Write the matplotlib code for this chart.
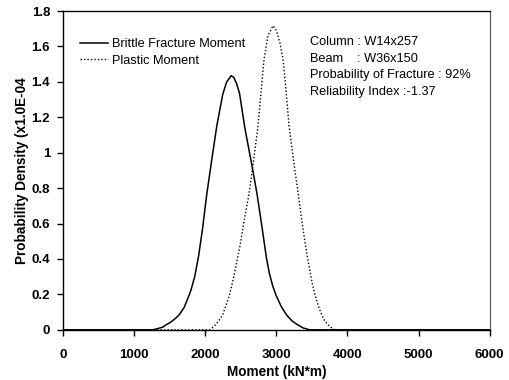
import matplotlib; matplotlib.use('Agg')

import matplotlib.pyplot as plt

plt.rcParams['font.family'] = ['Liberation Sans', 'DejaVu Sans']

# values (density in 1.0E-04)
brittle_x = [0, 1250, 1300, 1400, 1444, 1500, 1550, 1600, 1632, 1700, 1774, 1800,
             1850, 1906, 1960, 2018, 2090, 2160, 2200, 2245, 2300, 2364, 2400,
             2440, 2481, 2552, 2600, 2650, 2726, 2797, 2858, 2900, 2950, 3000, 3070,
             3141, 3220, 3301, 3380, 3470, 6000]
brittle_y = [0.0, 0.0, 0.004, 0.015, 0.028, 0.04, 0.055, 0.072, 0.085, 0.125, 0.198, 0.228,
             0.30, 0.42, 0.57, 0.76, 0.96, 1.149, 1.235, 1.33, 1.40, 1.435, 1.425,
             1.39, 1.335, 1.149, 1.045, 0.94, 0.77, 0.58, 0.41, 0.32, 0.245, 0.19, 0.13,
             0.085, 0.05, 0.028, 0.01, 0.0, 0.0]

plastic_x = [0, 2057, 2100, 2141, 2200, 2245, 2300, 2340, 2400, 2443, 2490, 2528,
             2570, 2613, 2680, 2740, 2790, 2825, 2880, 2952, 3000, 3050, 3094,
             3140, 3178, 3240, 3306, 3353, 3400, 3447, 3500, 3542, 3590, 3636,
             3680, 3730, 3780, 3825, 6000]
plastic_y = [0.0, 0.0, 0.012, 0.028, 0.058, 0.085, 0.15, 0.198, 0.30, 0.386, 0.48, 0.575,
             0.67, 0.765, 0.96, 1.149, 1.37, 1.525, 1.66, 1.717, 1.69, 1.62, 1.525,
             1.33, 1.149, 0.96, 0.77, 0.63, 0.50, 0.386, 0.27, 0.198, 0.135, 0.085,
             0.05, 0.028, 0.01, 0.0, 0.0]

info = ["Column : W14x257",
        "Beam    : W36x150",
        "Probability of Fracture : 92%",
        "Reliability Index :-1.37"]

fig = plt.figure(figsize=(5.1, 3.8), dpi=100)
ax = fig.add_axes([0.124, 0.132, 0.836, 0.839])

ax.plot(brittle_x, brittle_y, color='black', lw=1.1, label="Brittle Fracture Moment")
ax.plot(plastic_x, plastic_y, color='black', lw=1.0, linestyle=(0, (1, 1.5)),
        label="Plastic Moment")

ax.set_xlim(0, 6000)
ax.set_ylim(0, 1.8)
ax.set_xticks(range(0, 6001, 1000))
ax.set_yticks([0, 0.2, 0.4, 0.6, 0.8, 1, 1.2, 1.4, 1.6, 1.8])
ax.set_yticklabels(["0", "0.2", "0.4", "0.6", "0.8", "1", "1.2", "1.4", "1.6", "1.8"])
ax.tick_params(direction='out', length=4.5, width=1, labelsize=9.5)
ax.tick_params(axis='x', pad=9)
ax.tick_params(axis='y', pad=5)
for lab in ax.get_xticklabels() + ax.get_yticklabels():
    lab.set_fontweight('bold')

for s in ['left', 'bottom', 'top']:
    ax.spines[s].set_linewidth(1.0)
ax.spines['right'].set_color('#555555')

ax.set_xlabel("Moment (kN*m)", fontsize=9.8, fontweight='bold', labelpad=3)
ax.set_ylabel("Probability Density (x1.0E-04", fontsize=9.8, fontweight='bold', labelpad=2)

ax.legend(loc='upper left', bbox_to_anchor=(0.012, 0.95), frameon=False,
          fontsize=9.2, handlelength=2.2, handletextpad=0.35, labelspacing=0.35)

for i, line in enumerate(info):
    ax.text(0.578, 0.902 - i * 0.052, line, transform=ax.transAxes,
            fontsize=9.2, va='center')

plt.savefig("out.png")
